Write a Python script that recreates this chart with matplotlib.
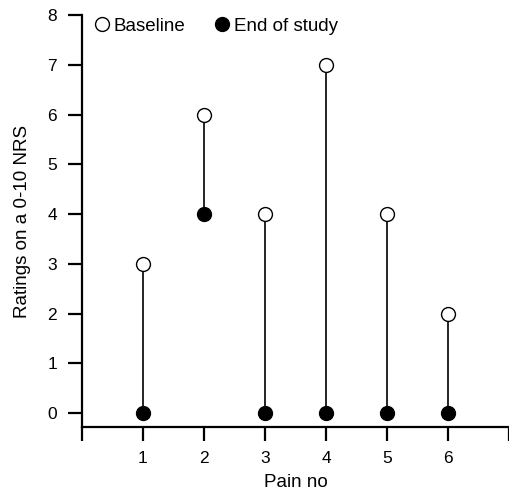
import matplotlib

matplotlib.use("Agg")
import matplotlib.pyplot as plt
from matplotlib.lines import Line2D

pain_no = [1, 2, 3, 4, 5, 6]
baseline = [3, 6, 4, 7, 4, 2]
end_of_study = [0, 4, 0, 0, 0, 0]

plt.rcParams["font.family"] = ["Liberation Sans", "DejaVu Sans"]

fig = plt.figure(figsize=(5.09, 5.0), dpi=100)
ax = fig.add_axes([0.161, 0.146, 0.839, 0.824])

for x, b, e in zip(pain_no, baseline, end_of_study):
    ax.plot([x, x], [e, b], color="black", linewidth=1.2, zorder=1)
ax.plot(pain_no, baseline, "o", markersize=10, markerfacecolor="white",
        markeredgecolor="black", markeredgewidth=1.0, linestyle="none", zorder=3)
ax.plot(pain_no, end_of_study, "o", markersize=10, markerfacecolor="black",
        markeredgecolor="black", linestyle="none", zorder=3)

ax.set_xlim(0, 7)
ax.set_ylim(-0.28, 8)
ax.set_xticks(range(0, 8))
ax.set_xticklabels([""] + [str(p) for p in pain_no] + [""])
ax.set_yticks(range(0, 9))

for side in ("top", "right"):
    ax.spines[side].set_visible(False)
for side in ("left", "bottom"):
    ax.spines[side].set_linewidth(1.6)
ax.tick_params(axis="both", direction="out", length=10, width=1.6, labelsize=12.5)
ax.tick_params(axis="y", pad=8)
ax.tick_params(axis="x", pad=7)

ax.set_xlabel("Pain no", fontsize=13.5, labelpad=6)
ax.set_ylabel("Ratings on a 0-10 NRS", fontsize=13.5, labelpad=12)

handles = [
    Line2D([], [], marker="o", linestyle="none", markersize=10,
           markerfacecolor="white", markeredgecolor="black", label="Baseline"),
    Line2D([], [], marker="o", linestyle="none", markersize=10,
           markerfacecolor="black", markeredgecolor="black", label="End of study"),
]
ax.legend(handles=handles, ncol=2, loc="upper left", bbox_to_anchor=(-0.015, 1.035),
          frameon=False, fontsize=13.5, handletextpad=0.1, columnspacing=1.5,
          handlelength=1.0)

fig.savefig("out.png", dpi=100)
